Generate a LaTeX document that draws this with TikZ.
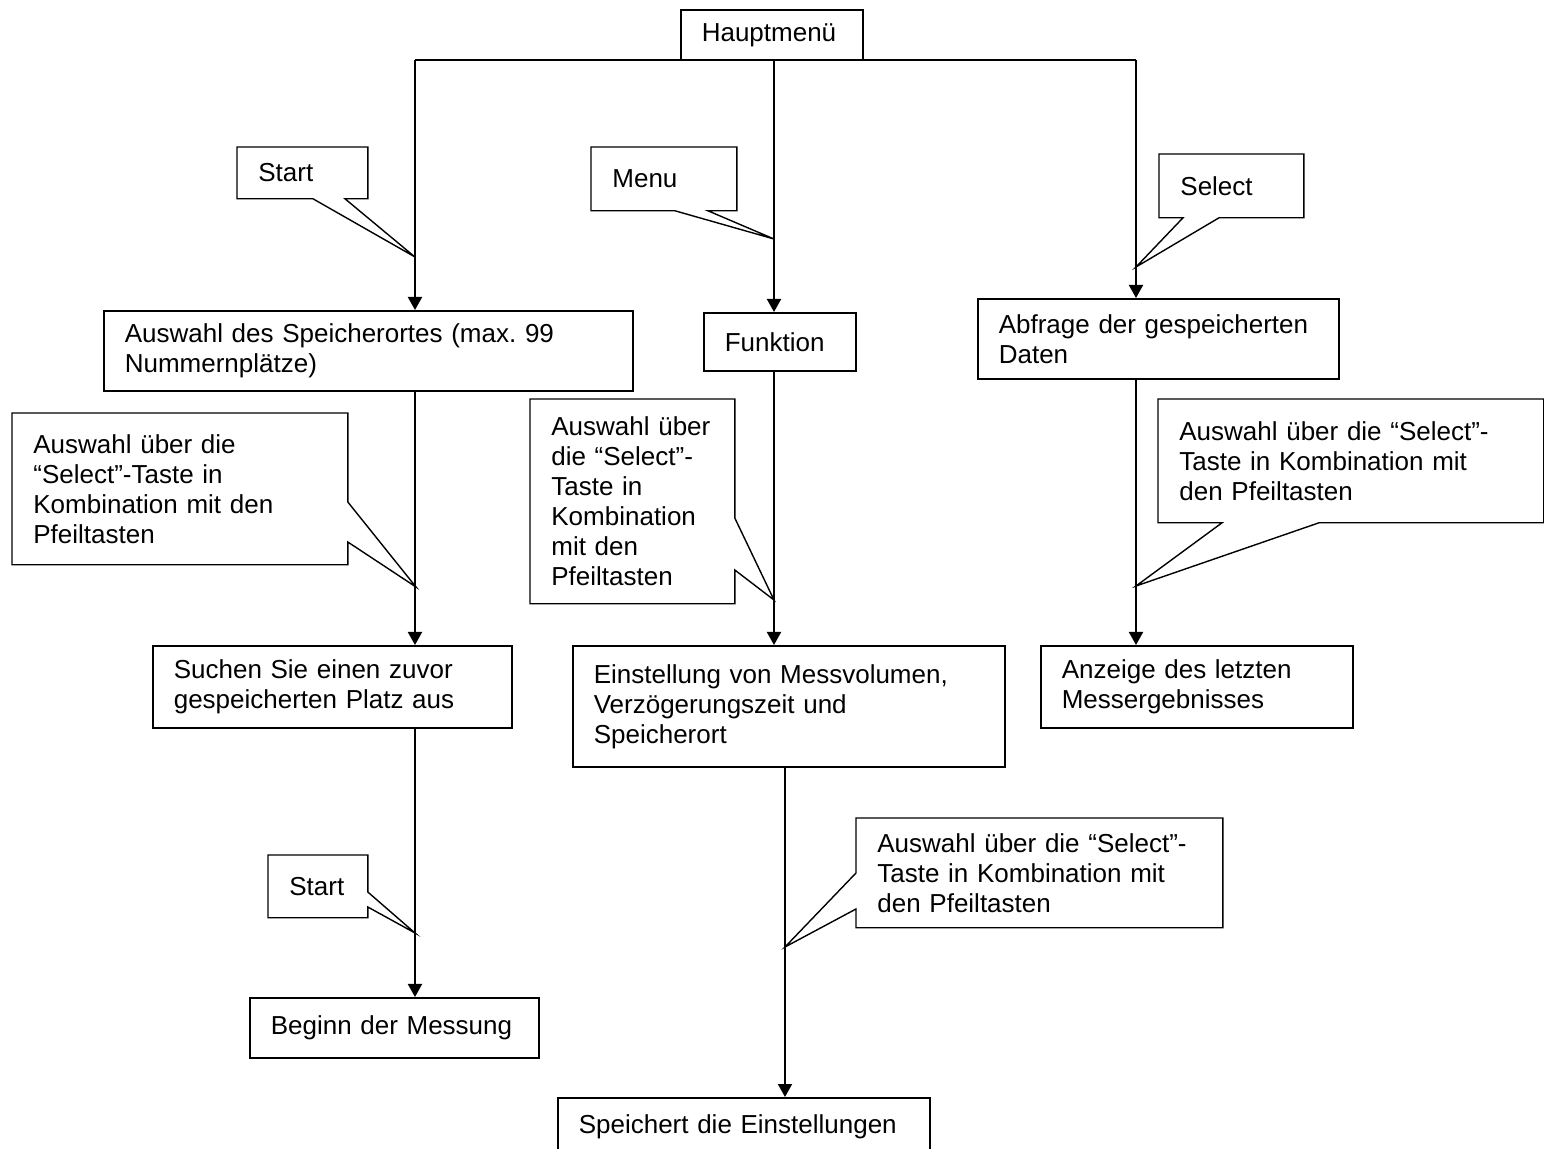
\documentclass[tikz,border=0pt]{standalone}
\usepackage{fontspec}
\setmainfont{Liberation Sans}
\usetikzlibrary{arrows.meta,calc}

\begin{document}
\begin{tikzpicture}[x=0.5pt,y=-0.5pt,
    note/.style={anchor=north west, inner xsep=10.5pt, inner ysep=0pt, align=left,
      font=\fontsize{13pt}{15pt}\selectfont\frenchspacing},
    box/.style={note, draw, line width=0.8pt},
    outline/.style={line width=0.7pt, line join=miter},
    conn/.style={line width=1pt, -{Triangle[length=6.5pt,width=7pt]}}]
    \useasboundingbox (0,0) rectangle (1544,1149);

    % Kästen
    \node[box, text width=70pt, minimum height=25pt] (haupt) at (680,9) {Hauptmenü};
    \node[box, text width=243.5pt, minimum height=40pt] (speicherort) at (103,310) {Auswahl des Speicherortes (max. 99\\Nummernplätze)};
    \node[box, text width=55pt, minimum height=29pt] (funktion) at (703,312) {Funktion};
    \node[box, text width=159.5pt, minimum height=40pt] (abfrage) at (977,298) {Abfrage der gespeicherten\\Daten};
    \node[box, text width=158.5pt, minimum height=41pt] (suchen) at (152,645) {Suchen Sie einen zuvor\\gespeicherten Platz aus};
    \node[box, text width=195pt, minimum height=60.5pt] (einstellung) at (572,645) {Einstellung von Messvolumen,\\Verzögerungszeit und\\Speicherort};
    \node[box, text width=135pt, minimum height=41pt] (anzeige) at (1040,645) {Anzeige des letzten\\Messergebnisses};
    \node[box, text width=123.5pt, minimum height=30pt] (beginn) at (249,997) {Beginn der Messung};
    \node[box, text width=165pt, minimum height=29pt] (speichert) at (557,1097) {Speichert die Einstellungen};

    % Sprechblasen
    \node[note, text width=44pt, minimum height=25.5pt] (start1) at (237,147) {Start};
    \node[note, text width=51.5pt, minimum height=31.5pt] (menu) at (591,147) {Menu};
    \node[note, text width=51pt, minimum height=31.5pt] (select) at (1159,154) {Select};
    \node[note, text width=146.5pt, minimum height=75.5pt] (auswahlL) at (12,413) {Auswahl über die\\“Select”-Taste in\\Kombination mit den\\Pfeiltasten};
    \node[note, text width=81pt, minimum height=102pt] (auswahlM) at (530,399) {Auswahl über\\die “Select”-\\Taste in\\Kombination\\mit den\\Pfeiltasten};
    \node[note, text width=171.5pt, minimum height=61.5pt] (auswahlR) at (1158,399) {Auswahl über die “Select”-\\Taste in Kombination mit\\den Pfeiltasten};
    \node[note, text width=28.5pt, minimum height=31pt] (start2) at (268,855) {Start};
    \node[note, text width=162pt, minimum height=54.5pt] (auswahlU) at (856,818) {Auswahl über die “Select”-\\Taste in Kombination mit\\den Pfeiltasten};

    % Linien
    \coordinate (busL) at (415,60);
    \coordinate (busM) at (774,60);
    \coordinate (busR) at (1136,60);
    \coordinate (lowM) at (785,766);
    \coordinate (tipA) at (415,257);
    \coordinate (tipB) at (774,239);
    \coordinate (tipC) at (1136,267);
    \coordinate (tipD) at (416,587);
    \coordinate (tipE) at (774,600);
    \coordinate (tipF) at (1136,586);
    \coordinate (tipG) at (415,933);
    \coordinate (tipH) at (785,947);

    \draw[outline] (start1.north west) -- (start1.north east) -- (start1.south east)
      -- ($(start1.south west)+(108,0)$) -- (tipA) -- ($(start1.south west)+(76,0)$) -- (start1.south west) -- cycle;
    \draw[outline] (menu.north west) -- (menu.north east) -- (menu.south east)
      -- ($(menu.south west)+(117,0)$) -- (tipB) -- ($(menu.south west)+(84,0)$) -- (menu.south west) -- cycle;
    \draw[outline] (select.north west) -- (select.north east) -- (select.south east)
      -- ($(select.south west)+(60,0)$) -- (tipC) -- ($(select.south west)+(24,0)$) -- (select.south west) -- cycle;
    \draw[outline] (auswahlL.north west) -- (auswahlL.north east) -- ($(auswahlL.north east)+(0,89)$)
      -- (tipD) -- ($(auswahlL.north east)+(0,129)$) -- (auswahlL.south east) -- (auswahlL.south west) -- cycle;
    \draw[outline] (auswahlM.north west) -- (auswahlM.north east) -- ($(auswahlM.north east)+(0,119)$)
      -- (tipE) -- ($(auswahlM.north east)+(0,171)$) -- (auswahlM.south east) -- (auswahlM.south west) -- cycle;
    \draw[outline] (auswahlR.north west) -- (auswahlR.north east) -- (auswahlR.south east)
      -- ($(auswahlR.south west)+(161,0)$) -- (tipF) -- ($(auswahlR.south west)+(64,0)$) -- (auswahlR.south west) -- cycle;
    \draw[outline] (start2.north west) -- (start2.north east) -- ($(start2.north east)+(0,37)$)
      -- (tipG) -- ($(start2.north east)+(0,52)$) -- (start2.south east) -- (start2.south west) -- cycle;
    \draw[outline] (auswahlU.north west) -- (auswahlU.north east) -- (auswahlU.south east) -- (auswahlU.south west)
      -- ($(auswahlU.north west)+(0,91)$) -- (tipH) -- ($(auswahlU.north west)+(0,55)$) -- cycle;

    \draw[line width=1pt] (busL) -- (busR);
    \draw[conn] (busL) -- (busL |- speicherort.north);
    \draw[conn] (busM) -- (busM |- funktion.north);
    \draw[conn] (busR) -- (busR |- abfrage.north);
    \draw[conn] (busL |- speicherort.south) -- (busL |- suchen.north);
    \draw[conn] (busL |- suchen.south) -- (busL |- beginn.north);
    \draw[conn] (busM |- funktion.south) -- (busM |- einstellung.north);
    \draw[conn] (lowM) -- (lowM |- speichert.north);
    \draw[conn] (busR |- abfrage.south) -- (busR |- anzeige.north);
\end{tikzpicture}
\end{document}
